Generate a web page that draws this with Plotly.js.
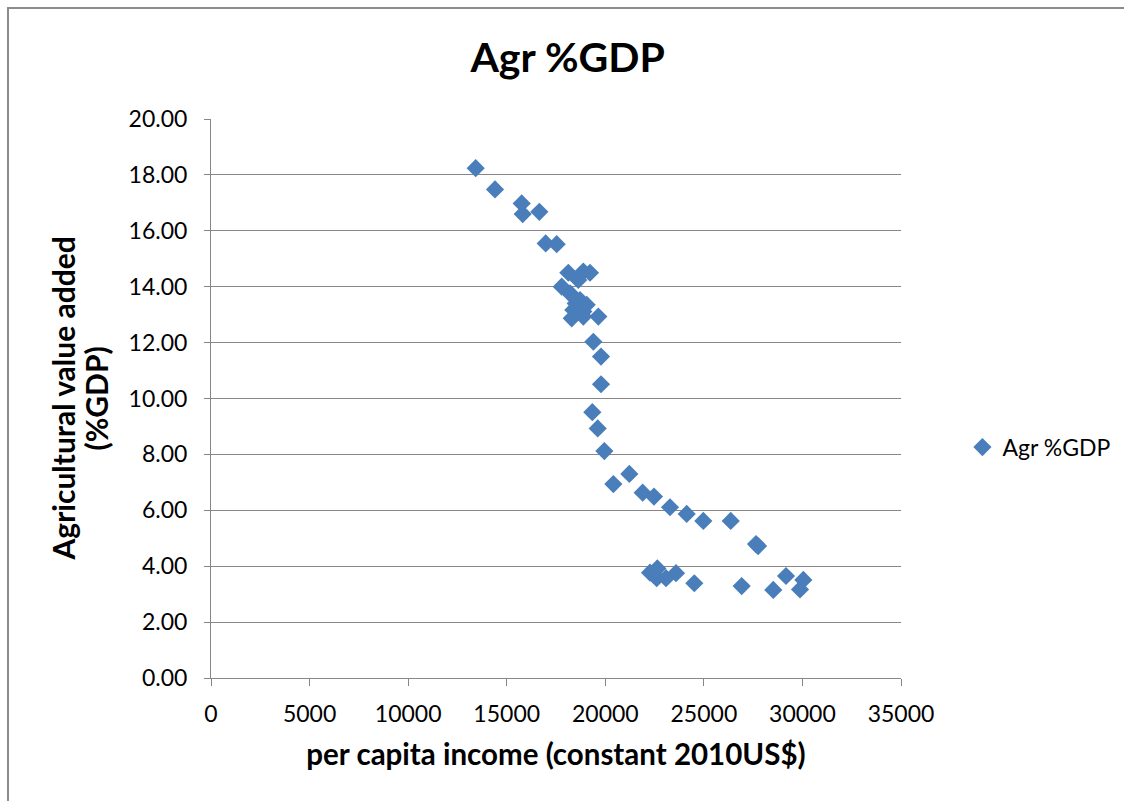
<!DOCTYPE html>
<html>
<head>
<meta charset="utf-8">
<script src="https://cdn.plot.ly/plotly-3.0.1.min.js"></script>
<style>
html,body{margin:0;padding:0;background:#fff;}
#wrap{position:relative;width:1124px;height:801px;overflow:hidden;}
#chart{position:absolute;left:0;top:0;width:1124px;height:801px;}
#frame{position:absolute;left:7px;top:7px;width:1140px;height:820px;border-left:2px solid #8c8c8c;border-top:2px solid #8c8c8c;pointer-events:none;}
</style>
</head>
<body>
<div id="wrap"><div id="chart"></div><div id="frame"></div></div>
<script>
const seriesName = "Agr %GDP";
const incomeX = [13427,14406,15760,15811,16655,16977,17535,18125,18886,19225,18632,17790,18210,18297,18718,19057,18378,18886,18297,18886,19647,19394,19783,19783,19343,19615,19952,21220,20409,21896,22471,23283,24129,24973,26362,27646,27750,22268,22640,22608,23080,23587,24516,26918,28522,29167,29877,30046,22450,18500];
const agrY = [18.24,17.48,16.98,16.60,16.68,15.55,15.52,14.50,14.54,14.50,14.24,14.00,13.76,13.70,13.52,13.35,13.17,13.11,12.87,12.93,12.93,12.03,11.50,10.51,9.51,8.93,8.12,7.30,6.94,6.63,6.49,6.11,5.87,5.62,5.62,4.79,4.72,3.77,3.92,3.57,3.57,3.75,3.39,3.29,3.15,3.65,3.17,3.51,3.70,13.40];
const xTicks = [0,5000,10000,15000,20000,25000,30000,35000];
const yTicks = [0,2,4,6,8,10,12,14,16,18,20];
const chartTitle = "Agr %GDP";
const xTitle = "per capita income (constant 2010US$)";
const yTitleLines = ["Agricultural value added", "(%GDP)"];

const fontFam = "Lato, 'Open Sans', sans-serif";
const gridC = "#878787";

const trace = {
  type: "scatter", mode: "markers", name: seriesName,
  x: incomeX, y: agrY,
  marker: {symbol: "diamond", size: 14, color: "#4a7ebb"},
  showlegend: true
};

const layout = {
  width: 1124, height: 801,
  margin: {l: 211, r: 223, t: 119, b: 123, autoexpand: false},
  paper_bgcolor: "#fff", plot_bgcolor: "#fff",
  font: {family: fontFam, color: "#000", size: 23},
  title: {text: "<b>" + chartTitle + "</b>", font: {family: fontFam, size: 41, color: "#000"},
          xref: "container", x: 0.505, xanchor: "center", yref: "container", y: 0.928, yanchor: "middle"},
  xaxis: {
    range: [0, 35000], tickvals: xTicks, ticktext: xTicks.map(String),
    showgrid: false, zeroline: false, showline: true, linecolor: gridC, linewidth: 1,
    ticks: "outside", ticklen: 7, tickcolor: gridC, tickwidth: 1,
    tickfont: {family: fontFam, size: 23, color: "#000"}, ticklabelstandoff: 8,
    title: {text: "<b>" + xTitle + "</b>", font: {family: fontFam, size: 29.5, color: "#000"}, standoff: 18},
    fixedrange: true, automargin: false
  },
  yaxis: {
    range: [0, 20], tickvals: yTicks, ticktext: yTicks.map(v => v.toFixed(2)),
    showgrid: true, gridcolor: gridC, gridwidth: 1, zeroline: false,
    showline: true, linecolor: gridC, linewidth: 1,
    ticks: "outside", ticklen: 6, tickcolor: gridC, tickwidth: 1,
    tickfont: {family: fontFam, size: 23, color: "#000"}, ticklabelstandoff: 12,
    fixedrange: true, automargin: false
  },
  annotations: yTitleLines.map((t, i) => ({
    text: "<b>" + t + "</b>", xref: "paper", yref: "paper",
    x: i === 0 ? -0.2145 : -0.1667, y: 0.5, xanchor: "center", yanchor: "middle",
    textangle: -90, showarrow: false, font: {family: fontFam, size: 30, color: "#000"}
  })),
  legend: {x: 1.089, xanchor: "left", y: 0.413, yanchor: "middle", font: {family: fontFam, size: 23, color: "#000"},
           bgcolor: "rgba(0,0,0,0)", itemwidth: 30}
};

Plotly.newPlot("chart", [trace], layout, {displayModeBar: false, staticPlot: true});
</script>
</body>
</html>
